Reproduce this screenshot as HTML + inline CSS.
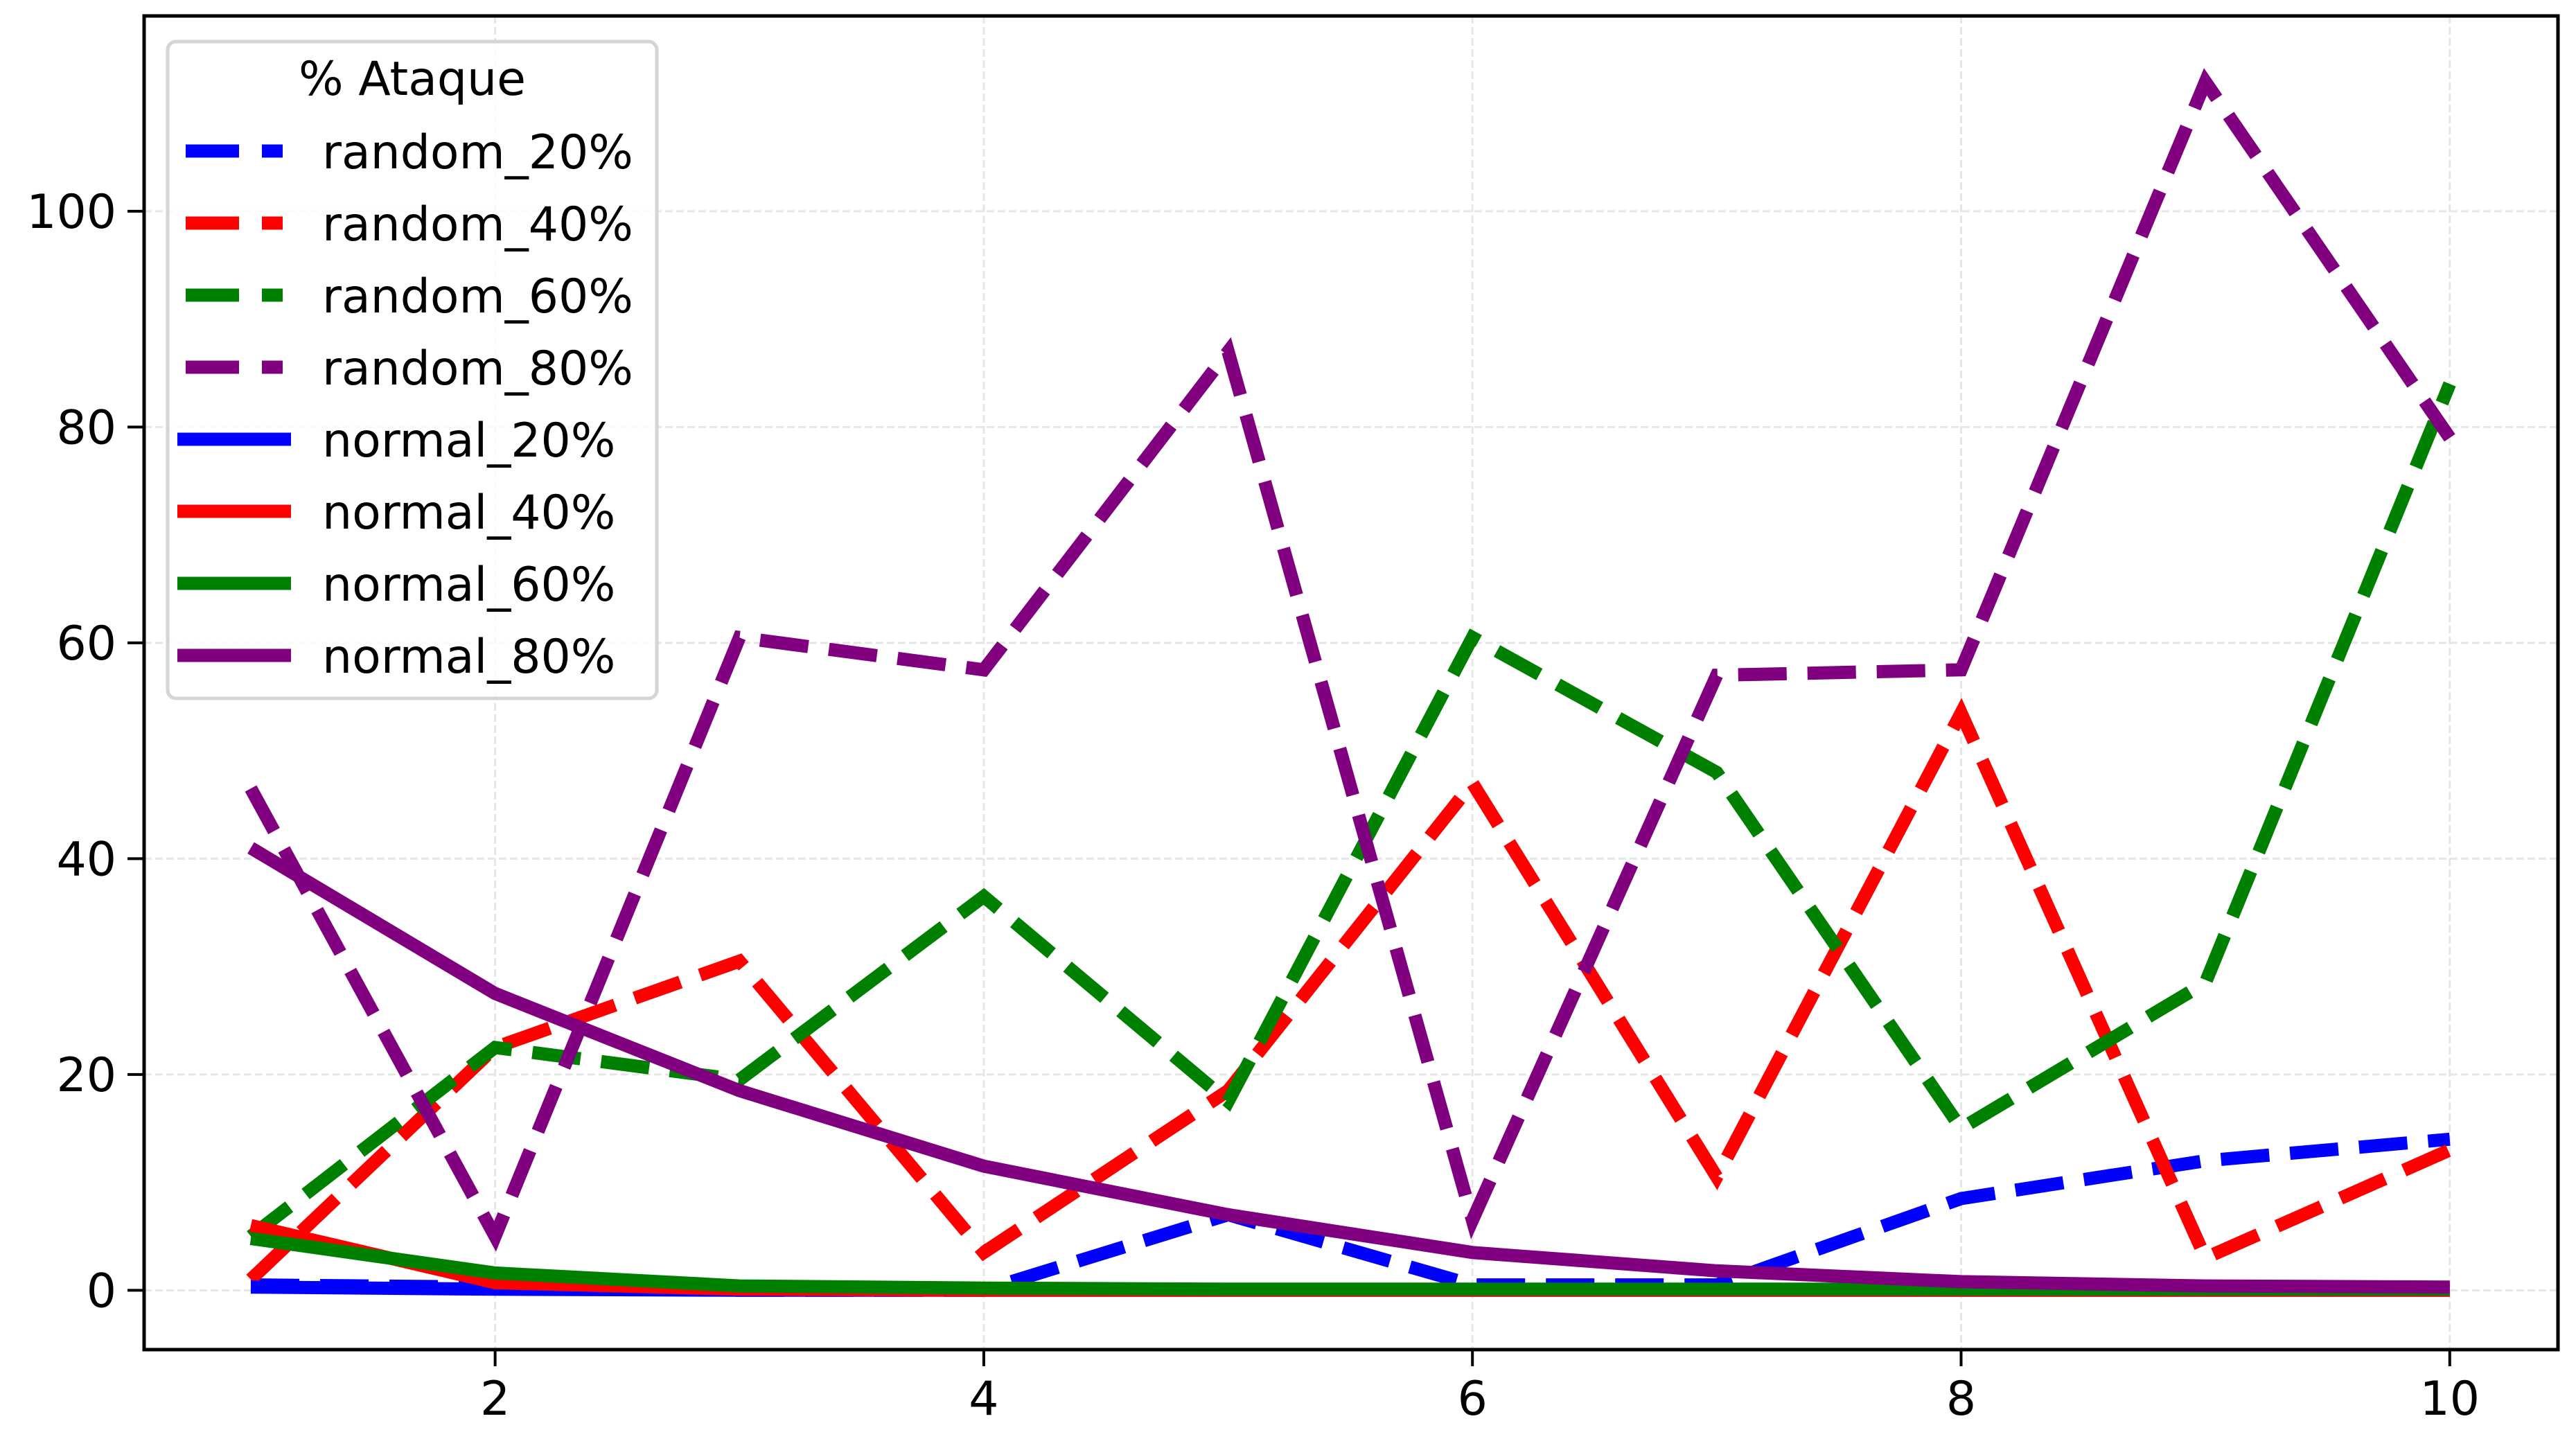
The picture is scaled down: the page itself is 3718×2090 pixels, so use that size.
<!DOCTYPE html>
<html><head><meta charset="utf-8"><style>
html,body{margin:0;padding:0;background:#fff}
svg{display:block;font-family:"DejaVu Sans","Liberation Sans",sans-serif}
</style></head><body>
<svg id="chart" width="3718" height="2090" viewBox="0 0 3718 2090" xmlns="http://www.w3.org/2000/svg">
<rect width="3718" height="2090" fill="#fff"/>
<g id="grid"></g>
<g id="series"></g>
<rect x="208" y="23" width="3484" height="1925" fill="none" stroke="#000" stroke-width="5"/>
<g id="ticks"></g>
<g id="legend">
<rect x="242" y="60" width="706" height="948" rx="12" fill="#fff" fill-opacity="0.8" stroke="#d5d5d5" stroke-width="5"/>
<text x="595" y="137" font-size="68" text-anchor="middle">% Ataque</text>
</g>
</svg>
<script>
const xValues = [1,2,3,4,5,6,7,8,9,10];
const seriesNames = ["random_20%","random_40%","random_60%","random_80%","normal_20%","normal_40%","normal_60%","normal_80%"];
const seriesColors = ["#0000ff","#ff0000","#008000","#800080","#0000ff","#ff0000","#008000","#800080"];
const random20 = [0.5,0.3,0,0,7,0.5,0.5,8.5,12,14];
const random40 = [1,22.5,30.5,3.5,18.5,47,10.5,53.5,3,13];
const random60 = [5,22.5,19.5,36.5,17.5,60.5,48,15,28.5,84];
const random80 = [46.5,5,60.5,57.5,87,6.5,57,57.5,112,79];
const normal20 = [0.3,0.1,0,0,0,0,0,0,0,0];
const normal40 = [6,0.7,0.1,0,0,0,0,0,0,0];
const normal60 = [4.8,1.6,0.4,0.2,0.1,0.1,0.1,0.1,0.1,0.1];
const normal80 = [41,27.5,18.5,11.5,7,3.5,1.8,0.8,0.4,0.3];
const xTicks = [2,4,6,8,10];
const yTicks = [0,20,40,60,80,100];

const allSeries = [random20,random40,random60,random80,normal20,normal40,normal60,normal80];
const NS = "http://www.w3.org/2000/svg";
const L=208,R=3692,T=23,B=1948;
const xMin=0.569,xMax=10.443,yMin=-5.5,yMax=118.1;
function sx(v){return 210+(v-xMin)/(xMax-xMin)*(R-210);}
function sy(v){return B-(v-yMin)/(yMax-yMin)*(B-T);}
function mk(tag,attrs,parent){const e=document.createElementNS(NS,tag);for(const k in attrs)e.setAttribute(k,attrs[k]);parent.appendChild(e);return e;}
const grid=document.getElementById('grid'),ticks=document.getElementById('ticks'),ser=document.getElementById('series'),leg=document.getElementById('legend');
xTicks.forEach(t=>{
  const g=mk('line',{x1:sx(t),x2:sx(t),y1:T,y2:B,stroke:'#e6e6e6','stroke-width':3,'stroke-dasharray':'11 5'},grid);
  
  
  const tk=mk('line',{x1:sx(t),x2:sx(t),y1:B,y2:B+24,stroke:'#000','stroke-width':4},ticks);
  
  
  const tx=mk('text',{x:sx(t),y:B+94,'font-size':68,'text-anchor':'middle'},ticks);
  tx.textContent=t;
  
  
});
yTicks.forEach(t=>{
  const g=mk('line',{x1:L,x2:R,y1:sy(t),y2:sy(t),stroke:'#e6e6e6','stroke-width':3,'stroke-dasharray':'11 5'},grid);
  
  
  const tk=mk('line',{x1:L-24,x2:L,y1:sy(t),y2:sy(t),stroke:'#000','stroke-width':4},ticks);
  
  
  const tx=mk('text',{x:L-40,y:sy(t)+24,'font-size':68,'text-anchor':'end'},ticks);
  tx.textContent=t;
  
  
});
allSeries.forEach((vals,i)=>{
  const pts=vals.map((v,j)=>sx(xValues[j]).toFixed(1)+','+sy(v).toFixed(1)).join(' ');
  const attrs={points:pts,fill:'none',stroke:seriesColors[i],'stroke-width':19,'stroke-linejoin':'miter','stroke-miterlimit':4};
  if(i<4)attrs['stroke-dasharray']='70 30';
  const p=mk('polyline',attrs,ser);
  
  
  const y=218+i*104;
  const h=mk('line',{x1:i<4?268:256,x2:i<4?408:420,y1:y,y2:y,stroke:seriesColors[i],'stroke-width':19},leg);
  if(i<4)h.setAttribute('stroke-dasharray','77 33');
  
  
  const t=mk('text',{x:465,y:y+25,'font-size':68},leg);
  t.textContent=seriesNames[i];
  
  
});
</script>
</body></html>
